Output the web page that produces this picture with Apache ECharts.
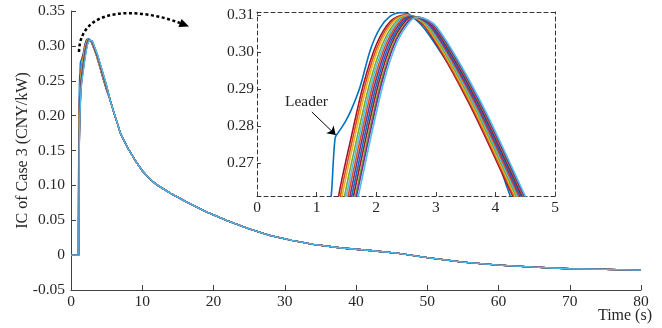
<!DOCTYPE html>
<html>
<head>
<meta charset="utf-8">
<script src="https://cdn.jsdelivr.net/npm/echarts@6/dist/echarts.min.js"></script>
<style>
  html, body { margin: 0; padding: 0; background: #fff; }
  #chart { width: 662px; height: 328px; }
</style>
</head>
<body>
<div id="chart"></div>
<script>
// Incentive cost of Case 3: leader plus followers, [time (s), value (CNY/kW)]
const leaderHead = [[0,0],[1.0,0],[1.04,0.08],[1.08,0.16],[1.12,0.21],[1.16,0.24],[1.2,0.255],[1.25,0.262],
  [1.31,0.2767],[1.37,0.2784],[1.48,0.2811],[1.59,0.2847],[1.73,0.2906],[1.9,0.3005],[2.06,0.3064],
  [2.23,0.3096],[2.4,0.3106],[2.55,0.3102],[2.79,0.3067],[3.1,0.2995],[3.46,0.2906],[3.91,0.2771],
  [4.25,0.2611],[5.0,0.2356]];

const follower01 = [[0,0],[1.02,0],[1.08,0.15],[1.14,0.20],[1.22,0.235],[1.29,0.25],[1.37,0.2611],[1.57,0.2762],[1.79,0.2915],[2.01,0.3023],[2.25,0.3085],[2.47,0.3100],[2.81,0.3070],[3.53,0.2870],[4.29,0.2611],[5.0,0.237]];
const follower02 = [[0,0],[1.03,0],[1.09,0.15],[1.16,0.20],[1.24,0.235],[1.31,0.25],[1.40,0.2611],[1.60,0.2762],[1.82,0.2915],[2.04,0.3023],[2.28,0.3085],[2.50,0.3099],[2.83,0.3069],[3.55,0.2870],[4.31,0.2611],[5.0,0.238]];
const follower03 = [[0,0],[1.04,0],[1.10,0.15],[1.17,0.20],[1.26,0.235],[1.33,0.25],[1.43,0.2611],[1.63,0.2762],[1.85,0.2915],[2.07,0.3023],[2.31,0.3085],[2.52,0.3099],[2.85,0.3069],[3.57,0.2870],[4.33,0.2611],[5.0,0.239]];
const follower04 = [[0,0],[1.05,0],[1.11,0.15],[1.18,0.20],[1.28,0.235],[1.36,0.25],[1.47,0.2611],[1.67,0.2762],[1.89,0.2915],[2.11,0.3023],[2.35,0.3085],[2.55,0.3098],[2.87,0.3068],[3.59,0.2870],[4.35,0.2611],[5.0,0.2395]];
const follower05 = [[0,0],[1.06,0],[1.12,0.15],[1.20,0.20],[1.30,0.235],[1.38,0.25],[1.50,0.2611],[1.70,0.2762],[1.92,0.2915],[2.14,0.3023],[2.38,0.3085],[2.57,0.3097],[2.89,0.3068],[3.61,0.2870],[4.37,0.2611],[5.0,0.240]];
const follower06 = [[0,0],[1.07,0],[1.13,0.15],[1.21,0.20],[1.32,0.235],[1.41,0.25],[1.53,0.2611],[1.73,0.2762],[1.95,0.2915],[2.17,0.3023],[2.41,0.3085],[2.59,0.3097],[2.91,0.3068],[3.63,0.2870],[4.39,0.2611],[5.0,0.2405]];
const follower07 = [[0,0],[1.08,0],[1.14,0.15],[1.22,0.20],[1.34,0.235],[1.43,0.25],[1.56,0.2611],[1.76,0.2762],[1.98,0.2915],[2.20,0.3023],[2.44,0.3085],[2.61,0.3096],[2.93,0.3067],[3.65,0.2870],[4.41,0.2611],[5.0,0.241]];
const follower08 = [[0,0],[1.08,0],[1.14,0.15],[1.23,0.20],[1.35,0.235],[1.45,0.25],[1.59,0.2611],[1.79,0.2762],[2.01,0.2915],[2.23,0.3023],[2.47,0.3085],[2.63,0.3096],[2.95,0.3067],[3.67,0.2870],[4.43,0.2611],[5.0,0.2415]];
const follower09 = [[0,0],[1.09,0],[1.15,0.15],[1.24,0.20],[1.37,0.235],[1.48,0.25],[1.62,0.2611],[1.82,0.2762],[2.04,0.2915],[2.26,0.3023],[2.50,0.3085],[2.65,0.3095],[2.97,0.3067],[3.69,0.2870],[4.45,0.2611],[5.0,0.242]];
const follower10 = [[0,0],[1.09,0],[1.15,0.15],[1.24,0.20],[1.38,0.235],[1.50,0.25],[1.65,0.2611],[1.85,0.2762],[2.07,0.2915],[2.29,0.3023],[2.53,0.3085],[2.67,0.3095],[2.99,0.3067],[3.71,0.2870],[4.47,0.2611],[5.0,0.2425]];
const follower11 = [[0,0],[1.10,0],[1.16,0.15],[1.25,0.20],[1.39,0.235],[1.52,0.25],[1.67,0.2611],[1.87,0.2762],[2.09,0.2915],[2.31,0.3023],[2.55,0.3085],[2.69,0.3094],[3.00,0.3067],[3.72,0.2870],[4.48,0.2611],[5.0,0.243]];
const follower12 = [[0,0],[1.10,0],[1.16,0.15],[1.25,0.20],[1.40,0.235],[1.53,0.25],[1.70,0.2611],[1.90,0.2762],[2.12,0.2915],[2.34,0.3023],[2.58,0.3085],[2.71,0.3094],[3.02,0.3067],[3.74,0.2870],[4.50,0.2611],[5.0,0.2435]];

// After about 5 s all agents follow the same decay
const sharedTail = [[5.5,0.222],[6,0.205],[7,0.173],[8,0.153],[9,0.136],[10,0.121],[11,0.110],[12,0.101],
  [14,0.0885],[16,0.0775],[19,0.062],[22,0.049],[25,0.0375],[28,0.028],[31,0.0212],[34,0.0155],
  [38,0.0102],[42,0.0066],[46,0.0026],[50,-0.0035],[55,-0.0100],[60,-0.0142],[65,-0.0172],
  [70,-0.0195],[75,-0.0204],[80,-0.0215]];

const leaderColor = '#0072BD';
const followerColors = ['#A2142F','#D95319','#EDB120','#77AC30','#4DBEEE','#D95319',
  '#7E2F8E','#0072BD','#A2142F','#77AC30','#7E2F8E','#4DBEEE'];
const followerHeads = [follower01,follower02,follower03,follower04,follower05,follower06,
  follower07,follower08,follower09,follower10,follower11,follower12];

const yTicksInset = [0.27, 0.28, 0.29, 0.30, 0.31];

const FONT = '"Liberation Serif", "Times New Roman", serif';
const TXT = '#262626';
const AX = '#404040';
const FS = 15.5;

const chart = echarts.init(document.getElementById('chart'), null, { renderer: 'canvas' });

function lineSeries(head, color, grid, width) {
  return {
    type: 'line',
    xAxisIndex: grid, yAxisIndex: grid,
    data: head.concat(sharedTail),
    showSymbol: false,
    smooth: grid === 1 ? 0.3 : false,
    lineStyle: { color: color, width: width },
    itemStyle: { color: color },
    emphasis: { disabled: true },
    silent: true,
    animation: false,
    z: 3
  };
}

const series = [];
series.push(lineSeries(leaderHead, leaderColor, 0, 1.3));
followerHeads.forEach((h, i) => series.push(lineSeries(h, followerColors[i], 0, 1.3)));

const insetLeader = lineSeries(leaderHead, leaderColor, 1, 1.6);
insetLeader.markLine = {
  silent: true,
  symbol: ['none', 'arrow'],
  symbolSize: 8,
  label: { show: false },
  lineStyle: { color: '#000', width: 1, type: 'solid' },
  animation: false,
  data: [[{ coord: [0.92, 0.2838] }, { coord: [1.32, 0.2776] }]]
};
insetLeader.markPoint = {
  silent: true,
  symbol: 'circle',
  symbolSize: 1,
  itemStyle: { color: 'rgba(0,0,0,0)' },
  label: { show: true, position: 'inside', formatter: 'Leader', color: TXT, fontFamily: FONT, fontSize: FS },
  animation: false,
  data: [{ coord: [0.83, 0.2866] }]
};
series.push(insetLeader);
followerHeads.forEach((h, i) => series.push(lineSeries(h, followerColors[i], 1, 1.6)));

const labelStyle = { color: TXT, fontFamily: FONT, fontSize: FS };
const dashed = { color: '#333', width: 1, type: [4, 3] };

const option = {
  backgroundColor: '#fff',
  animation: false,
  grid: [
    { left: 71, right: 21, top: 11, bottom: 38, outerBoundsMode: 'none', containLabel: false },
    { left: 257, right: 107, top: 12, bottom: 132, outerBoundsMode: 'none', containLabel: false,
      show: true, backgroundColor: '#fff', borderWidth: 0 }
  ],
  xAxis: [
    {
      type: 'value', gridIndex: 0, min: 0, max: 80, interval: 10,
      axisLine: { show: true, onZero: false, lineStyle: { color: AX, width: 1 } },
      axisTick: { show: true, inside: true, length: 5, lineStyle: { color: AX } },
      axisLabel: Object.assign({ margin: 4 }, labelStyle),
      splitLine: { show: false }
    },
    {
      type: 'value', gridIndex: 1, min: 0, max: 5, interval: 1,
      axisLine: { show: true, onZero: false, lineStyle: dashed },
      axisTick: { show: true, inside: true, length: 4, lineStyle: { color: AX } },
      axisLabel: Object.assign({ margin: 4 }, labelStyle),
      splitLine: { show: false }
    },
    {
      type: 'value', gridIndex: 1, min: 0, max: 5, position: 'top',
      axisLine: { show: true, onZero: false, lineStyle: dashed },
      axisTick: { show: false }, axisLabel: { show: false }, splitLine: { show: false }
    }
  ],
  yAxis: [
    {
      type: 'value', gridIndex: 0, min: -0.05, max: 0.35, interval: 0.05,
      name: 'IC of Case 3 (CNY/kW)', nameLocation: 'middle', nameGap: 40, nameMoveOverlap: false,
      nameTextStyle: { color: TXT, fontFamily: FONT, fontSize: 16 },
      axisLine: { show: true, onZero: false, lineStyle: { color: AX, width: 1 } },
      axisTick: { show: true, inside: true, length: 5, lineStyle: { color: AX } },
      axisLabel: Object.assign({
        margin: 6,
        formatter: v => Math.abs(v) < 1e-9 ? '0' : v.toFixed(2)
      }, labelStyle),
      splitLine: { show: false }
    },
    {
      type: 'value', gridIndex: 1, min: 0.2611, max: 0.3108,
      axisLine: { show: true, onZero: false, lineStyle: dashed },
      axisTick: { show: true, inside: true, length: 4, customValues: yTicksInset, lineStyle: { color: AX } },
      axisLabel: Object.assign({
        margin: 3, customValues: yTicksInset,
        formatter: v => v.toFixed(2)
      }, labelStyle),
      splitLine: { show: false }
    },
    {
      type: 'value', gridIndex: 1, min: 0.2611, max: 0.3108, position: 'right',
      axisLine: { show: true, onZero: false, lineStyle: dashed },
      axisTick: { show: false }, axisLabel: { show: false }, splitLine: { show: false }
    }
  ],
  series: series,
  graphic: [
    {
      type: 'text', right: 10, top: 308, silent: true,
      style: { text: 'Time (s)', fill: TXT, font: '16px "Liberation Serif", "Times New Roman", serif' }
    },
    {
      // dotted pointer from the peak towards the zoomed view
      type: 'bezierCurve', silent: true, z: 10,
      shape: { x1: 79, y1: 52, cpx1: 80, cpy1: 5, cpx2: 140, cpy2: 8, x2: 180, y2: 23 },
      style: { stroke: '#000', lineWidth: 2.5, lineDash: [3, 2.5], fill: null }
    },
    {
      type: 'polygon', silent: true, z: 10,
      shape: { points: [[189, 26.6], [178.4, 27.0], [181.6, 18.9]] },
      style: { fill: '#000' }
    }
  ]
};

chart.setOption(option);
</script>
</body>
</html>
